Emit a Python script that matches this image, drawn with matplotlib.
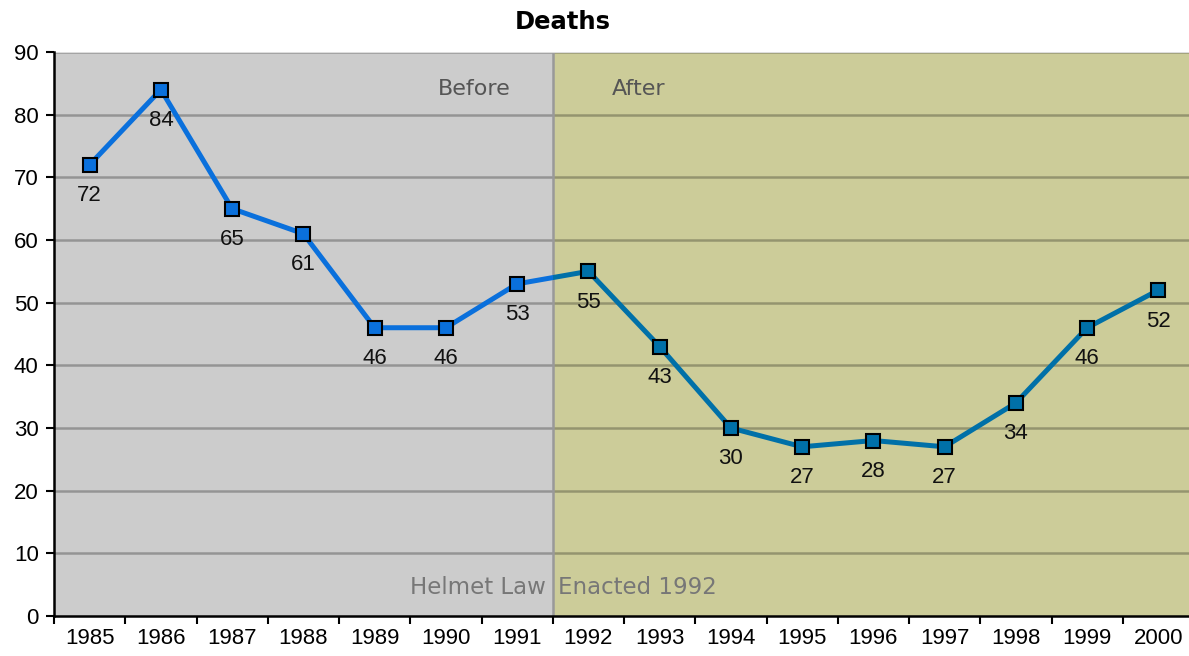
import matplotlib

matplotlib.use("Agg")

import matplotlib.pyplot as plt
from matplotlib.patches import Rectangle

years = list(range(1985, 2001))
deaths = [72, 84, 65, 61, 46, 46, 53, 55, 43, 30, 27, 28, 27, 34, 46, 52]
law_year = 1992
y_ticks = list(range(0, 100, 10))

GRAY_BG = "#cccccc"
OLIVE_BG = "#cccc99"
BLUE_LEFT = "#0a70dc"
BLUE_RIGHT = "#0070a8"

W, H = 1189, 656
fig = plt.figure(figsize=(W / 100, H / 100), dpi=100)
left_px, right_px, top_px, bottom_px = 54, 1194, 52, 616
ax = fig.add_axes([left_px / W, 1 - bottom_px / H,
                   (right_px - left_px) / W, (bottom_px - top_px) / H])

x0, x1 = years[0] - 0.5, years[-1] + 0.5
split = law_year - 0.5
ax.set_xlim(x0, x1)
ax.set_ylim(0, 90)

# Hintergrund: vorher grau, nachher oliv
ax.set_facecolor(GRAY_BG)
ax.axvspan(split, x1, color=OLIVE_BG, zorder=0, lw=0)

# Gitterlinien (halbtransparent schwarz, passt auf beide Flächen)
for v in y_ticks[1:]:
    ax.axhline(v, color="black", alpha=0.27, lw=1.8, zorder=1)
ax.axvline(split, color="#999999", lw=1.8, zorder=1)

# Linie: links hellblau, rechts dunkler (per Clipping)
left_clip = Rectangle((x0, 0), split - x0, 90, transform=ax.transData)
right_clip = Rectangle((split, 0), x1 - split, 90, transform=ax.transData)
for color, clip in ((BLUE_LEFT, left_clip), (BLUE_RIGHT, right_clip)):
    ln, = ax.plot(years, deaths, color=color, lw=3.6, marker="s",
                  markersize=10, markerfacecolor=color,
                  markeredgecolor="black", markeredgewidth=1.5, zorder=3)
    ln.set_clip_path(clip)

for x, v in zip(years, deaths):
    ax.annotate(str(v), (x, v), xytext=(0, -31), textcoords="offset pixels",
                ha="center", va="center", fontsize=16,
                family="Liberation Sans", color="#111111", zorder=4)

ax.text(split - 1.1, 84.1, "Before", ha="center", va="center",
        fontsize=16, color="#555555", family="DejaVu Sans")
ax.text(split + 1.2, 84.1, "After", ha="center", va="center",
        fontsize=16, color="#555555", family="DejaVu Sans")
ax.text(split - 0.1, 4.5, "Helmet Law", ha="right", va="center",
        fontsize=16.5, color="#777777", family="DejaVu Sans")
ax.text(split + 0.08, 4.5, "Enacted 1992", ha="left", va="center",
        fontsize=16.5, color="#777777", family="DejaVu Sans")

fig.text(563 / W, 1 - 22 / H, "Deaths", ha="center", va="center",
         fontsize=17.5, fontweight="bold", family="DejaVu Sans")

# Achsen
ax.set_xticks(years)
ax.set_xticklabels([str(y) for y in years], family="Liberation Sans", fontsize=16)
ax.set_xticks([y - 0.5 for y in years] + [x1], minor=True)
ax.tick_params(axis="x", which="major", length=0, pad=9)
ax.tick_params(axis="x", which="minor", length=6, width=1.5, direction="out")
ax.set_yticks(y_ticks)
ax.set_yticklabels([str(v) for v in y_ticks], family="Liberation Sans", fontsize=16)
ax.tick_params(axis="y", length=6, width=1.5, direction="out", pad=5)

for side in ("top", "right"):
    ax.spines[side].set_visible(False)
ax.spines["left"].set_linewidth(1.8)
ax.spines["bottom"].set_linewidth(1.8)
ax.axhline(90, color="#dddddd", lw=1.5, zorder=1)

fig.savefig("out.png", dpi=100)
